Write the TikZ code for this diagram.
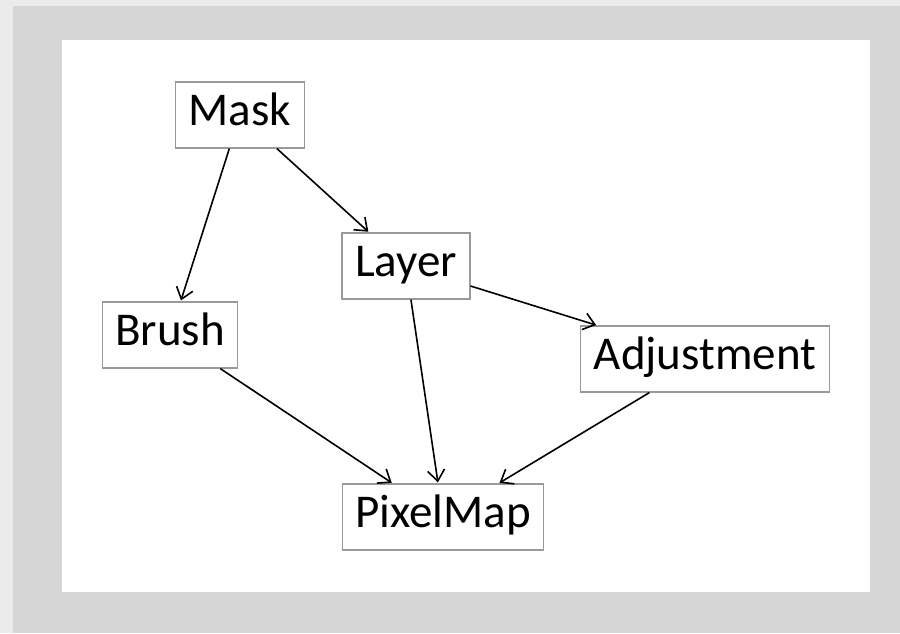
\documentclass[tikz,border=0pt]{standalone}
\usepackage{fontspec}
\setmainfont{Carlito}
\usetikzlibrary{arrows.meta}
\usetikzlibrary{positioning}
\tikzset{>={Straight Barb[length=11pt,width=17pt]}}
\definecolor{outergray}{HTML}{EBEBEB}
\definecolor{framegray}{HTML}{D6D6D6}
\definecolor{boxgray}{HTML}{9A9A9A}
\tikzset{
  classbox/.style={draw=boxgray,line width=1.2pt,fill=white,minimum height=66pt,
    inner xsep=13pt,text height=32pt,text depth=12pt,
    font=\fontsize{47}{53}\selectfont},
  uses/.style={->,line width=1.6pt,shorten >=1pt}
}

\begin{document}
\begin{tikzpicture}[x=1pt,y=-1pt]
  % background and frame
  \fill[outergray] (0,0) rectangle (900,633);
  \fill[framegray] (13,6) rectangle (900,633);
  \fill[white] (62,40) rectangle (870,592);
  \useasboundingbox (0,0) rectangle (900,633);

  \node[classbox] (mask)   at (240,115) {Mask};
  \node[classbox] (layer)  at (406,266) {Layer};
  \node[classbox] (brush)  at (170,335) {Brush};
  \node[classbox] (adjust) at (705,359) {Adjustment};
  \node[classbox] (pixmap) at (443,517) {PixelMap};

  \draw[uses] (mask) -- (brush);
  \draw[uses] (mask) -- (layer);
  \draw[uses] (layer) -- (adjust);
  \draw[uses] (layer) -- (pixmap);
  \draw[uses] (brush) -- (pixmap);
  \draw[uses] (adjust) -- (pixmap);
\end{tikzpicture}
\end{document}
